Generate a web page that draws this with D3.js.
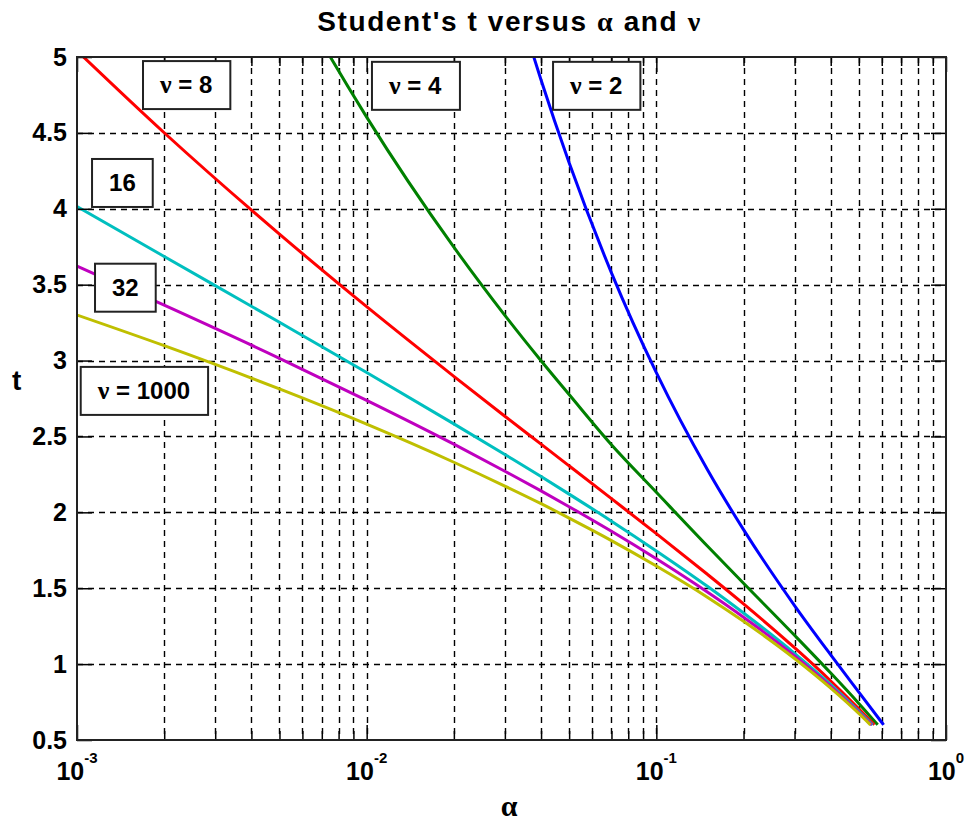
<!DOCTYPE html>
<html>
<head>
<meta charset="utf-8">
<script src="https://cdn.jsdelivr.net/npm/d3@7"></script>
<style>
body { margin:0; background:#fff; }
svg text { font-family: "Liberation Sans", Arial, sans-serif; font-weight: bold; fill: #000; }
.greek { font-family: "Liberation Serif", "Times New Roman", serif; }
</style>
</head>
<body>
<svg id="chart" width="966" height="825"></svg>
<script>
const alphaGrid = [0.001, 0.002, 0.005, 0.01, 0.02, 0.03, 0.04, 0.05, 0.07, 0.1, 0.15, 0.2, 0.3, 0.4, 0.5];
// every curve stops at t = 0.6, at these alphas
const alphaEnd = [0.609, 0.581, 0.566, 0.558, 0.554, 0.5485];
const tEnd = 0.6;
const nuValues = [2, 4, 8, 16, 32, 1000];
const t_nu2 = [31.60, 22.33, 14.09, 9.925, 6.965, 5.643, 4.849, 4.303, 3.578, 2.920, 2.282, 1.886, 1.386, 1.061, 0.816];
const t_nu4 = [8.610, 7.173, 5.598, 4.604, 3.747, 3.298, 2.999, 2.776, 2.445, 2.132, 1.778, 1.533, 1.190, 0.941, 0.741];
const t_nu8 = [5.041, 4.501, 3.833, 3.355, 2.896, 2.633, 2.449, 2.306, 2.090, 1.860, 1.592, 1.397, 1.108, 0.889, 0.706];
const t_nu16 = [4.015, 3.686, 3.252, 2.921, 2.583, 2.381, 2.236, 2.120, 1.942, 1.746, 1.513, 1.337, 1.071, 0.865, 0.690];
const t_nu32 = [3.622, 3.365, 3.015, 2.738, 2.449, 2.271, 2.141, 2.037, 1.875, 1.694, 1.475, 1.309, 1.054, 0.853, 0.682];
const t_nu1000 = [3.300, 3.098, 2.813, 2.581, 2.330, 2.173, 2.057, 1.962, 1.814, 1.646, 1.441, 1.282, 1.037, 0.842, 0.675];
const seriesColors = ["#0000ff", "#008000", "#ff0000", "#00bfbf", "#bf00bf", "#bfbf00"];

const yTicks = [0.5, 1, 1.5, 2, 2.5, 3, 3.5, 4, 4.5, 5];
const xTicksMajor = [1e-3, 1e-2, 1e-1, 1];
const xTickExp = ["-3", "-2", "-1", "0"];

// text boxes: label, left edge alpha, centre t
const labelText = ["8", "4", "2", "16", "32", "1000"];
const labelWithNu = [true, true, true, false, false, true];
const labelAlpha = [0.00169, 0.01043, 0.0440, 0.001127, 0.001154, 0.00103];
const labelT = [4.815, 4.81, 4.81, 4.17, 3.48, 2.80];

var width = 966, height = 825;
var margin = {top: 57, right: 20, bottom: 85, left: 77};

var x = d3.scaleLog().domain([1e-3, 1]).range([margin.left, width - margin.right]);
var y = d3.scaleLinear().domain([0.5, 5]).range([height - margin.bottom, margin.top]);

var svg = d3.select("#chart");
svg.append("rect").attr("width", width).attr("height", height).attr("fill", "#fff");

svg.append("clipPath").attr("id", "plotclip")
  .append("rect")
  .attr("x", x.range()[0]).attr("y", y.range()[1])
  .attr("width", x.range()[1] - x.range()[0])
  .attr("height", y.range()[0] - y.range()[1]);

// grid
var allX = x.ticks();
var grid = svg.append("g").attr("stroke", "#000").attr("stroke-width", 1.4).attr("stroke-dasharray", "6,5");
grid.selectAll(".vg").data(allX.filter(d => d > 1e-3 && d < 1)).enter().append("line")
  .attr("x1", d => Math.round(x(d)) + 0.5).attr("x2", d => Math.round(x(d)) + 0.5)
  .attr("y1", y.range()[1]).attr("y2", y.range()[0]);
grid.selectAll(".hg").data(yTicks.filter(d => d > 0.5 && d < 5)).enter().append("line")
  .attr("y1", d => Math.round(y(d)) + 0.5).attr("y2", d => Math.round(y(d)) + 0.5)
  .attr("x1", x.range()[0]).attr("x2", x.range()[1]);

// curves
var tSeries = [t_nu2, t_nu4, t_nu8, t_nu16, t_nu32, t_nu1000];
var line = d3.line().x(d => x(d[0])).y(d => y(d[1])).curve(d3.curveMonotoneX);
var curves = svg.append("g").attr("clip-path", "url(#plotclip)");
tSeries.forEach(function(ts, i) {
  var pts = alphaGrid.map((a, j) => [a, ts[j]]);
  pts.push([alphaEnd[i], tEnd]);
  curves.append("path").datum(pts)
    .attr("fill", "none")
    .attr("stroke", seriesColors[i])
    .attr("stroke-width", 3)
    .attr("stroke-linejoin", "round")
    .attr("d", line);
});

// axes (ticks pointing inward)
var minorX = allX.filter(d => xTicksMajor.indexOf(d) < 0);
function clean(g) { g.select(".domain").remove(); g.selectAll("line").attr("stroke", "#000").attr("stroke-width", 1.5); }
svg.append("g").attr("transform", `translate(0,${y.range()[0]})`)
  .call(d3.axisBottom(x).tickValues(xTicksMajor).tickSizeInner(-15).tickSizeOuter(0).tickFormat(""))
  .call(clean).selectAll("text").remove();
svg.append("g").attr("transform", `translate(0,${y.range()[0]})`)
  .call(d3.axisBottom(x).tickValues(minorX).tickSizeInner(-9).tickSizeOuter(0).tickFormat(""))
  .call(clean).selectAll("text").remove();
svg.append("g").attr("transform", `translate(0,${y.range()[1]})`)
  .call(d3.axisTop(x).tickValues(xTicksMajor).tickSizeInner(-15).tickSizeOuter(0).tickFormat(""))
  .call(clean).selectAll("text").remove();
svg.append("g").attr("transform", `translate(0,${y.range()[1]})`)
  .call(d3.axisTop(x).tickValues(minorX).tickSizeInner(-9).tickSizeOuter(0).tickFormat(""))
  .call(clean).selectAll("text").remove();
svg.append("g").attr("transform", `translate(${x.range()[1]},0)`)
  .call(d3.axisRight(y).tickValues(yTicks).tickSizeInner(-15).tickSizeOuter(0).tickFormat(""))
  .call(clean).selectAll("text").remove();
var yAxis = svg.append("g").attr("transform", `translate(${x.range()[0]},0)`)
  .call(d3.axisLeft(y).tickValues(yTicks).tickSizeInner(-15).tickSizeOuter(0).tickPadding(10).tickFormat(d3.format("")))
  .call(clean);
yAxis.selectAll("text").attr("font-size", 25).attr("font-family", null);

// x tick labels 10^k
var xl = svg.append("g");
xTicksMajor.forEach(function(d, i) {
  var t = xl.append("text").attr("x", x(d)).attr("y", y.range()[0] + 40)
    .attr("text-anchor", "middle").attr("font-size", 25);
  t.append("tspan").text("10");
  t.append("tspan").attr("dy", -17).attr("font-size", 15).text(xTickExp[i]);
});

// border
svg.append("rect")
  .attr("x", x.range()[0]).attr("y", y.range()[1])
  .attr("width", x.range()[1] - x.range()[0])
  .attr("height", y.range()[0] - y.range()[1])
  .attr("fill", "none").attr("stroke", "#222").attr("stroke-width", 2);

// label boxes
var padX = 17, boxH = 48;
labelText.forEach(function(s, i) {
  var g = svg.append("g");
  var left = x(labelAlpha[i]), cy = y(labelT[i]);
  var rect = g.append("rect");
  var t = g.append("text").attr("x", left + padX).attr("y", cy).attr("dy", "0.35em").attr("font-size", 24);
  if (labelWithNu[i]) {
    t.append("tspan").attr("class", "greek").attr("font-size", 26).text("\u03bd");
    t.append("tspan").text(" = " + s);
  } else {
    t.append("tspan").text(s);
  }
  var bb = t.node().getBBox();
  rect.attr("x", left).attr("y", cy - boxH / 2)
    .attr("width", bb.width + 2 * padX).attr("height", boxH)
    .attr("fill", "#fff").attr("stroke", "#222").attr("stroke-width", 2);
});

// title and axis labels
var title = svg.append("text").attr("x", (x.range()[0] + x.range()[1]) / 2 - 2).attr("y", 31)
  .attr("text-anchor", "middle").attr("font-size", 28).attr("letter-spacing", 1.6);
title.append("tspan").text("Student's t versus ");
title.append("tspan").attr("class", "greek").text("\u03b1");
title.append("tspan").text(" and ");
title.append("tspan").attr("class", "greek").text("\u03bd");

svg.append("text").attr("x", 12).attr("y", 390).attr("font-size", 28).text("t");
svg.append("text").attr("class", "greek").attr("x", 509).attr("y", 816)
  .attr("text-anchor", "middle").attr("font-size", 30).attr("font-weight", "normal").text("\u03b1");
</script>
</body>
</html>
